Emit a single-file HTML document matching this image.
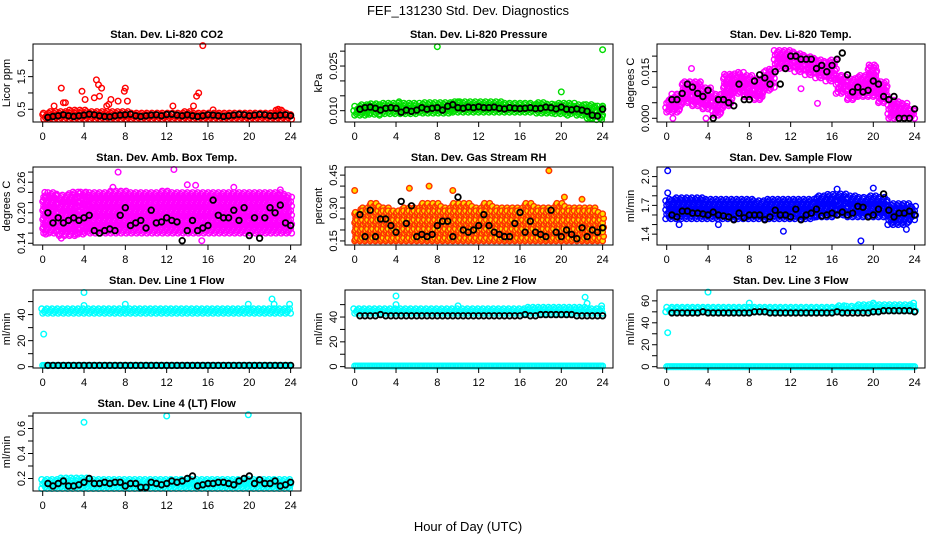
<!DOCTYPE html>
<html><head><meta charset="utf-8">
<style>
html,body{margin:0;padding:0;background:#fff;}
svg{display:block;font-family:"Liberation Sans",sans-serif;}
</style></head>
<body>
<svg id="chart" width="936" height="540" viewBox="0 0 936 540" xmlns="http://www.w3.org/2000/svg">
<rect width="936" height="540" fill="#fff"/>
<text x="468" y="15" font-size="13" text-anchor="middle">FEF_131230  Std. Dev. Diagnostics</text>
<text x="468" y="531" font-size="13" text-anchor="middle">Hour of Day (UTC)</text>
</svg>
<script>
// ---- data (hourly envelopes lo/hi at 0..24, half-hourly black series 0.5..24, outliers [hour,value]) ----
const hoursTicks = [0,4,8,12,16,20,24];

const co2Lo = [0.2,0.2,0.2,0.2,0.2,0.2,0.2,0.2,0.2,0.2,0.2,0.2,0.2,0.2,0.2,0.2,0.2,0.2,0.2,0.2,0.2,0.2,0.2,0.2,0.2];
const co2Hi = [0.38,0.42,0.45,0.48,0.5,0.45,0.42,0.42,0.45,0.4,0.4,0.4,0.4,0.4,0.42,0.4,0.4,0.38,0.38,0.38,0.38,0.38,0.4,0.5,0.4];
const co2Black = [0.25,0.28,0.3,0.33,0.3,0.28,0.3,0.32,0.35,0.33,0.3,0.28,0.27,0.3,0.32,0.33,0.35,0.3,0.28,0.3,0.32,0.33,0.3,0.34,0.35,0.32,0.3,0.33,0.3,0.28,0.3,0.33,0.32,0.3,0.28,0.3,0.32,0.34,0.33,0.3,0.32,0.34,0.33,0.3,0.3,0.32,0.33,0.3];
const co2Out = [[1.8,1.15],[2,0.7],[2.2,0.7],[3.8,1.05],[4.1,0.8],[5.2,1.4],[5.4,1.25],[5.7,1.15],[5,0.85],[5.5,0.9],[6.6,0.8],[7.3,0.75],[7.9,1.05],[8,1.15],[8.2,0.75],[12.6,0.6],[14.6,0.6],[15.1,1.0],[14.9,0.9],[15.5,2.45],[16.5,0.48],[1.1,0.6],[6.2,0.6],[6.4,0.65],[22.8,0.5]];

const presLo = [0.0085,0.0085,0.0088,0.009,0.009,0.009,0.009,0.0092,0.0092,0.0092,0.0095,0.0095,0.0095,0.0095,0.0095,0.0095,0.0095,0.0095,0.0092,0.0092,0.009,0.009,0.0085,0.0075,0.007];
const presHi = [0.0115,0.012,0.0125,0.0125,0.0125,0.0125,0.0128,0.0128,0.0128,0.013,0.013,0.013,0.013,0.013,0.013,0.0128,0.0128,0.0128,0.0128,0.0125,0.0125,0.0125,0.0122,0.012,0.0115];
const presBlack = [0.0105,0.011,0.0112,0.0108,0.0102,0.0108,0.011,0.0108,0.0095,0.0102,0.0098,0.0102,0.011,0.0105,0.0108,0.011,0.0102,0.0115,0.012,0.011,0.0108,0.0112,0.011,0.0113,0.011,0.011,0.0112,0.0108,0.0106,0.011,0.0108,0.0107,0.0108,0.011,0.0107,0.0108,0.0112,0.011,0.0106,0.0112,0.0105,0.0103,0.0106,0.0102,0.0098,0.0085,0.0082,0.0105];
const presOut = [[8,0.0315],[24,0.0305],[20,0.0163],[10,0.013],[4.3,0.013],[2.4,0.0085],[20.6,0.0085],[22.8,0.0075]];

const tempLo = [0.002,0.002,0.005,0.004,0.003,0.001,0.004,0.008,0.007,0.006,0.009,0.016,0.016,0.015,0.014,0.013,0.012,0.008,0.006,0.007,0.007,0.005,0.0,0.0,0.0];
const tempHi = [0.006,0.008,0.012,0.012,0.01,0.008,0.014,0.015,0.014,0.013,0.016,0.022,0.022,0.021,0.02,0.019,0.019,0.014,0.013,0.014,0.017,0.012,0.006,0.005,0.003];
const tempBlack = [0.006,0.006,0.008,0.011,0.01,0.008,0.007,0.009,0.0,0.006,0.006,0.005,0.004,0.011,0.006,0.006,0.012,0.014,0.013,0.011,0.015,0.011,0.016,0.02,0.02,0.019,0.019,0.019,0.016,0.017,0.015,0.017,0.019,0.021,0.014,0.0085,0.01,0.0085,0.009,0.012,0.011,0.007,0.006,0.007,0.0,0.0,0.0,0.003];
const tempOut = [[0.6,0.0],[3.8,0.0],[14.6,0.0048],[13,0.0095],[2.4,0.016]];

const ambLo = [0.16,0.16,0.155,0.155,0.158,0.16,0.16,0.16,0.16,0.16,0.16,0.16,0.16,0.16,0.16,0.16,0.16,0.16,0.16,0.16,0.16,0.16,0.16,0.16,0.16];
const ambHi = [0.235,0.24,0.235,0.24,0.24,0.24,0.24,0.242,0.242,0.24,0.24,0.24,0.242,0.24,0.24,0.24,0.24,0.24,0.24,0.24,0.24,0.24,0.24,0.24,0.235];
const ambBlack = [0.2,0.18,0.19,0.18,0.185,0.19,0.185,0.19,0.195,0.165,0.16,0.165,0.168,0.165,0.195,0.21,0.175,0.18,0.185,0.17,0.205,0.18,0.182,0.19,0.185,0.182,0.145,0.165,0.185,0.165,0.17,0.175,0.225,0.195,0.19,0.19,0.205,0.185,0.21,0.155,0.19,0.15,0.19,0.21,0.2,0.215,0.18,0.175];
const ambOut = [[7.3,0.28],[12.7,0.285],[14,0.255],[14.8,0.254],[18.5,0.25],[6.8,0.25],[0.2,0.24],[0.3,0.158],[1.8,0.15],[15.4,0.145],[23,0.245]];

const rhLo = [0.15,0.15,0.15,0.15,0.15,0.15,0.15,0.15,0.15,0.15,0.15,0.15,0.15,0.15,0.15,0.15,0.15,0.15,0.15,0.15,0.15,0.15,0.15,0.15,0.15];
const rhHi = [0.28,0.3,0.32,0.3,0.29,0.3,0.3,0.32,0.32,0.3,0.32,0.32,0.3,0.32,0.3,0.3,0.3,0.32,0.3,0.3,0.32,0.3,0.3,0.3,0.28];
const rhBlack = [0.27,0.17,0.29,0.17,0.25,0.25,0.22,0.19,0.33,0.23,0.31,0.17,0.18,0.17,0.18,0.22,0.24,0.24,0.17,0.35,0.2,0.19,0.2,0.22,0.27,0.22,0.19,0.18,0.17,0.17,0.23,0.28,0.19,0.24,0.19,0.18,0.17,0.29,0.19,0.17,0.2,0.18,0.16,0.21,0.17,0.2,0.19,0.21];
const rhOut = [[18.8,0.47],[0,0.38],[7.2,0.40],[5.3,0.39],[9.5,0.38],[22,0.34],[20.3,0.35]];

const flowLo = [1.56,1.56,1.56,1.56,1.56,1.56,1.56,1.56,1.56,1.56,1.56,1.56,1.56,1.56,1.56,1.58,1.58,1.6,1.58,1.58,1.58,1.58,1.5,1.5,1.55];
const flowHi = [1.76,1.78,1.78,1.78,1.76,1.76,1.76,1.76,1.76,1.75,1.76,1.76,1.76,1.76,1.76,1.8,1.82,1.82,1.8,1.78,1.8,1.78,1.72,1.72,1.7];
const flowBlack = [1.6,1.58,1.64,1.64,1.62,1.62,1.61,1.6,1.63,1.6,1.59,1.58,1.55,1.62,1.57,1.6,1.6,1.6,1.55,1.58,1.65,1.6,1.6,1.58,1.66,1.55,1.6,1.62,1.66,1.59,1.6,1.62,1.6,1.63,1.6,1.62,1.69,1.68,1.58,1.6,1.66,1.82,1.65,1.58,1.62,1.62,1.64,1.6];
const flowOut = [[0.1,2.06],[0.1,1.83],[11.3,1.43],[18.8,1.33],[16.5,1.87],[20,1.88],[23.2,1.45],[1.2,1.5],[5,1.5]];

const l1Lo = [41,41,41,41,41,41,41,41,41,41,41,41,41,41,41,41,41,41,41,41,41,41,41,41,41];
const l1Hi = [45,45,45,45,45,45,45,45,45,45,45,45,45,45,45,45,45,45,45,45,45,45,45,45,45];
const l1Zero = [1,1,1,1,1,1,1,1,1,1,1,1,1,1,1,1,1,1,1,1,1,1,1,1,1];
const l1Black = [1,1,1,1,1,1,1,1,1,1,1,1,1,1,1,1,1,1,1,1,1,1,1,1,1,1,1,1,1,1,1,1,1,1,1,1,1,1,1,1,1,1,1,1,1,1,1,1];
const l1Out = [[0.1,25],[4,57],[4,47],[8,48],[19.9,48],[22.2,52],[22.4,48],[23.9,48]];

const l2Lo = [43,43,43,43,43,43,43,43,43,43,43,43,43,43,43,43,43,43,43,43,43,43,43,43,43];
const l2Hi = [47,47,47,47,47,47,47,47,47,47,47,47,47,47,47,47,47,48,48,48,48,48,48,47,47];
const l2Zero = [0.5,0.5,0.5,0.5,0.5,0.5,0.5,0.5,0.5,0.5,0.5,0.5,0.5,0.5,0.5,0.5,0.5,0.5,0.5,0.5,0.5,0.5,0.5,0.5,0.5];
const l2Black = [41,41,41,41,42,41,41,41,41,41,41,41,41,41,41,41,41,41,41,41,41,41,41,41,41,41,41,41,41,41,41,41,42,41,41,42,42,42,42,42,42,42,41,41,41,41,41,41];
const l2Out = [[4,57],[4,50],[22.3,56],[22.5,51],[23.9,49],[10,49]];

const l3Lo = [50,50,50,50,50,50,50,50,50,50,50,50,50,50,50,50,50,50,51,51,51,51,51,51,51];
const l3Hi = [55,55,55,55,55,55,55,55,55,55,55,55,55,55,55,55,55,56,56,57,57,57,57,57,57];
const l3Zero = [0,0,0,0,0,0,0,0,0,0,0,0,0,0,0,0,0,0,0,0,0,0,0,0,0];
const l3Black = [49,49,49,49,49,49,50,49,49,49,49,49,49,49,49,49,50,50,50,49,49,49,49,49,49,49,49,49,49,49,49,49,50,49,49,49,49,49,49,50,50,51,51,51,51,51,51,50];
const l3Out = [[0.1,31],[4,68],[8,58],[20,58],[23.9,58]];

const l4Lo = [0.12,0.12,0.12,0.12,0.12,0.12,0.12,0.12,0.12,0.12,0.12,0.12,0.12,0.12,0.12,0.12,0.12,0.12,0.12,0.12,0.12,0.12,0.12,0.12,0.12];
const l4Hi = [0.19,0.19,0.2,0.2,0.2,0.19,0.19,0.19,0.19,0.19,0.19,0.19,0.19,0.19,0.19,0.19,0.19,0.19,0.19,0.19,0.19,0.19,0.19,0.19,0.19];
const l4Black = [0.16,0.14,0.16,0.18,0.14,0.14,0.15,0.17,0.2,0.16,0.16,0.17,0.16,0.17,0.17,0.14,0.16,0.16,0.13,0.13,0.17,0.16,0.15,0.16,0.18,0.17,0.18,0.2,0.22,0.14,0.15,0.16,0.16,0.17,0.17,0.16,0.15,0.18,0.2,0.22,0.16,0.19,0.16,0.16,0.18,0.14,0.15,0.17];
const l4Out = [[4,0.65],[12,0.70],[19.9,0.71]];

const panels = [
 {name:"co2", title:"Stan. Dev. Li-820 CO2", ylab:"Licor ppm", col:0,row:0, ymin:0.11,ymax:2.5, ticks:[0.5,1,1.5,2], labels:{"0.5":"0.5","1.5":"1.5"}, color:"#ff0000", lo:co2Lo, hi:co2Hi, black:co2Black, out:co2Out},
 {name:"pressure", title:"Stan. Dev. Li-820 Pressure", ylab:"kPa", col:1,row:0, ymin:0.0062,ymax:0.0324, ticks:[0.01,0.015,0.02,0.025,0.03], labels:{"0.01":"0.010","0.025":"0.025"}, color:"#00dd00", lo:presLo, hi:presHi, black:presBlack, out:presOut},
 {name:"temp", title:"Stan. Dev. Li-820 Temp.", ylab:"degrees C", col:2,row:0, ymin:-0.0012,ymax:0.0239, ticks:[0,0.005,0.01,0.015,0.02], labels:{"0":"0.000","0.015":"0.015"}, color:"#ff00ff", lo:tempLo, hi:tempHi, black:tempBlack, out:tempOut},
 {name:"amb-box", title:"Stan. Dev. Amb. Box Temp.", ylab:"degrees C", col:0,row:1, ymin:0.1366,ymax:0.29, ticks:[0.14,0.16,0.18,0.2,0.22,0.24,0.26,0.28], labels:{"0.14":"0.14","0.2":"0.20","0.26":"0.26"}, color:"#ff00ff", lo:ambLo, hi:ambHi, black:ambBlack, out:ambOut},
 {name:"gas-rh", title:"Stan. Dev. Gas Stream RH", ylab:"percent", col:1,row:1, ymin:0.1315,ymax:0.487, ticks:[0.15,0.2,0.25,0.3,0.35,0.4,0.45], labels:{"0.15":"0.15","0.3":"0.30","0.45":"0.45"}, color:"#ff3300", fill:"#ffdd00", lo:rhLo, hi:rhHi, black:rhBlack, out:rhOut},
 {name:"sample-flow", title:"Stan. Dev. Sample Flow", ylab:"ml/min", col:2,row:1, ymin:1.287,ymax:2.10, ticks:[1.4,1.5,1.6,1.7,1.8,1.9,2.0], labels:{"1.4":"1.4","1.7":"1.7","2":"2.0"}, color:"#0000ff", lo:flowLo, hi:flowHi, black:flowBlack, out:flowOut},
 {name:"line1", title:"Stan. Dev. Line 1 Flow", ylab:"ml/min", col:0,row:2, ymin:-1,ymax:58.9, ticks:[0,10,20,30,40,50], labels:{"0":"0","20":"20","40":"40"}, color:"#00ffff", lo:l1Lo, hi:l1Hi, zero:l1Zero, black:l1Black, out:l1Out},
 {name:"line2", title:"Stan. Dev. Line 2 Flow", ylab:"ml/min", col:1,row:2, ymin:-1.1,ymax:61.8, ticks:[0,10,20,30,40,50], labels:{"0":"0","20":"20","40":"40"}, color:"#00ffff", lo:l2Lo, hi:l2Hi, zero:l2Zero, black:l2Black, out:l2Out},
 {name:"line3", title:"Stan. Dev. Line 3 Flow", ylab:"ml/min", col:2,row:2, ymin:-1.2,ymax:69.9, ticks:[0,10,20,30,40,50,60], labels:{"0":"0","20":"20","40":"40","60":"60"}, color:"#00ffff", lo:l3Lo, hi:l3Hi, zero:l3Zero, black:l3Black, out:l3Out},
 {name:"line4", title:"Stan. Dev. Line 4 (LT) Flow", ylab:"ml/min", col:0,row:3, ymin:0.1,ymax:0.724, ticks:[0.2,0.3,0.4,0.5,0.6,0.7], labels:{"0.2":"0.2","0.4":"0.4","0.6":"0.6"}, color:"#00ffff", lo:l4Lo, hi:l4Hi, black:l4Black, out:l4Out}
];

const svg = document.getElementById('chart');
const NS = "http://www.w3.org/2000/svg";
function mk(tag, attrs, parent){
  const e = document.createElementNS(NS, tag);
  for (const k in attrs) e.setAttribute(k, attrs[k]);
  parent.appendChild(e);
  return e;
}

panels.forEach(p => {
  const boxL = 33 + p.col*312, boxW = 268;
  const boxT = 44 + p.row*123, boxH = 78;
  const x0 = 42.7 + p.col*312, pxh = 10.33;
  const xS = h => x0 + h*pxh;
  const yS = v => boxT + (p.ymax - v)/(p.ymax - p.ymin)*boxH;
  const g = mk('g', {}, svg);
  
  

  const clip = mk('clipPath', {id:'clip-'+p.name}, g);
  mk('rect', {x:boxL, y:boxT-6, width:boxW, height:boxH+12}, clip);
  const pts = mk('g', {'clip-path':'url(#clip-'+p.name+')'}, g);
  
  

  const col = p.color, fill = p.fill || 'none';
  function circ(px, py, color, sw, f){
    const c = mk('circle', {cx:px.toFixed(1), cy:py.toFixed(1), r:2.8, fill:f||'none', stroke:color, 'stroke-width':sw}, pts);
    
    
  }
  // colored envelope cloud
  for (let s = 0; s <= 24*6; s++){
    const h = s/6;
    const i = Math.round(h);
    const yl = yS(p.lo[i]), yh = yS(p.hi[i]);
    const off = (s % 3) * 1.5;
    for (let y = yl - off; y >= yh - 0.5; y -= 4.5){
      circ(xS(h) + ((s*7 + Math.round(y)) % 3) - 1, y, col, 1.4, fill);
    }
    if (p.zero) circ(xS(h), yS(p.zero[i]), col, 1.5, fill);
  }
  p.out.forEach(o => circ(xS(o[0]), yS(o[1]), col, 1.4, fill));
  p.black.forEach((v, j) => circ(xS(0.5 + j*0.5), yS(v), '#000', 1.8));

  const box = mk('rect', {x:boxL, y:boxT, width:boxW, height:boxH, fill:'none', stroke:'#000', 'stroke-width':1}, g);
  
  

  const t = mk('text', {x:(xS(0)+xS(24))/2, y:boxT-6, 'font-size':11, 'font-weight':'bold', 'text-anchor':'middle'}, g);
  t.textContent = p.title;
  
  

  const xa = mk('g', {}, g);
  
  
  mk('line', {x1:xS(0), x2:xS(24), y1:boxT+boxH, y2:boxT+boxH, stroke:'#000'}, xa);
  hoursTicks.forEach(h => {
    mk('line', {x1:xS(h), x2:xS(h), y1:boxT+boxH, y2:boxT+boxH+5, stroke:'#000'}, xa);
    const tl = mk('text', {x:xS(h), y:boxT+boxH+18, 'font-size':11, 'text-anchor':'middle'}, xa);
    tl.textContent = h;
    
    
  });

  const ya = mk('g', {}, g);
  
  
  const tks = p.ticks;
  mk('line', {x1:boxL, x2:boxL, y1:yS(tks[0]), y2:yS(tks[tks.length-1]), stroke:'#000'}, ya);
  tks.forEach(v => {
    const y = yS(v);
    mk('line', {x1:boxL-5, x2:boxL, y1:y, y2:y, stroke:'#000'}, ya);
    const key = String(v);
    if (p.labels[key] !== undefined){
      const tl = mk('text', {x:0, y:0, 'font-size':11, 'text-anchor':'middle', transform:'translate('+(boxL-8)+','+y.toFixed(1)+') rotate(-90)'}, ya);
      tl.textContent = p.labels[key];
      
      
    }
  });
  const yl = mk('text', {x:0, y:0, 'font-size':11, 'text-anchor':'middle', transform:'translate('+(boxL-23)+','+(boxT+boxH/2)+') rotate(-90)'}, g);
  yl.textContent = p.ylab;
  
  
});
</script>
</body></html>
